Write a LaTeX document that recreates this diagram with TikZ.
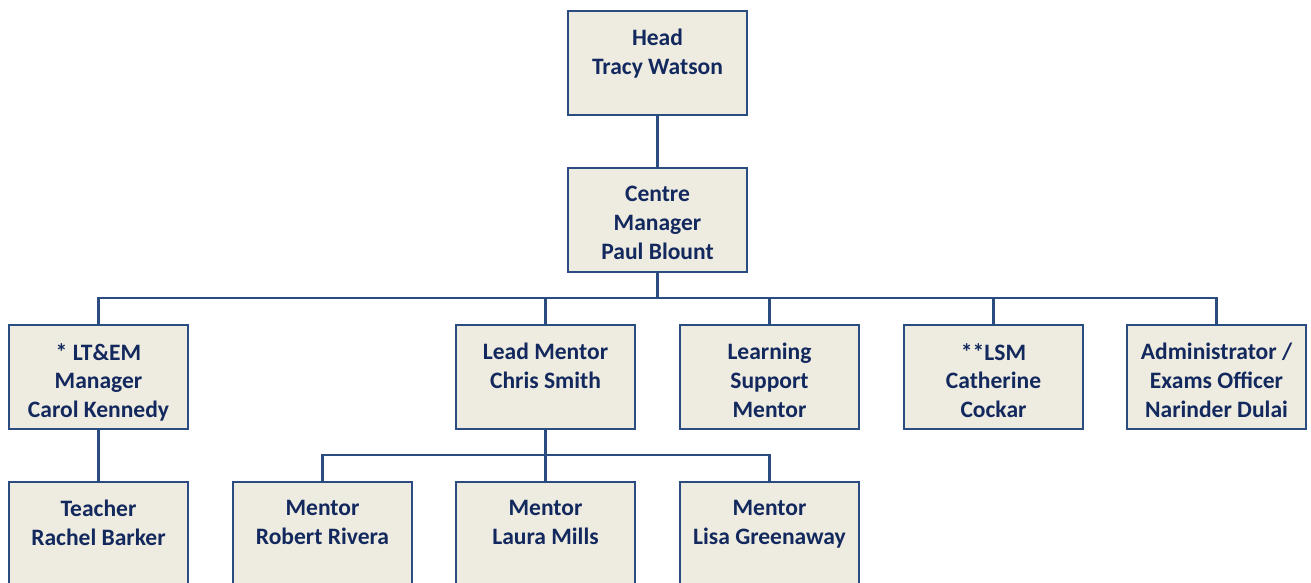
\documentclass[tikz,border=0pt]{standalone}
\usepackage{fontspec}
\setmainfont{Carlito}
\definecolor{boxfill}{HTML}{EEECE1}
\definecolor{boxline}{HTML}{2B4C80}
\definecolor{txtcol}{HTML}{13295E}
\begin{document}
\begin{tikzpicture}[x=0.02cm,y=-0.02cm,
  box/.style={draw=boxline,fill=boxfill,line width=1.2pt,minimum width=3.58cm,minimum height=2.08cm,inner sep=0pt},
  txt/.style={anchor=north,align=center,inner sep=0pt,text=txtcol,font=\bfseries\fontsize{13.4}{16.4}\selectfont},
  link/.style={draw=boxline,line width=1.2pt}]
\useasboundingbox (0,0) rectangle (1311,582);
\clip (0,0) rectangle (1311,582);
% boxes: centres at (x, top+52)
\node[box] (head) at (657.5,63) {};
\node[box] (cm) at (657.5,220) {};
\node[box] (lt) at (98.5,377) {};
\node[box] (lm) at (545.5,377) {};
\node[box] (ls) at (769.5,377) {};
\node[box] (lsm) at (993.5,377) {};
\node[box] (adm) at (1216.5,377) {};
\node[box] (tch) at (98.5,534) {};
\node[box] (m1) at (322.5,534) {};
\node[box] (m2) at (545.5,534) {};
\node[box] (m3) at (769.5,534) {};
% labels
\node[txt] (head-t) at ([yshift=-0.38cm]head.north) {Head\\Tracy Watson};
\node[txt] (cm-t) at ([yshift=-0.38cm]cm.north) {Centre\\Manager\\Paul Blount};
\node[txt] (lt-t) at ([yshift=-0.38cm]lt.north) {* LT\&EM\\Manager\\Carol Kennedy};
\node[txt] (lm-t) at ([yshift=-0.38cm]lm.north) {Lead Mentor\\Chris Smith};
\node[txt] (ls-t) at ([yshift=-0.38cm]ls.north) {Learning\\Support\\Mentor};
\node[txt] (lsm-t) at ([yshift=-0.38cm]lsm.north) {**LSM\\Catherine\\Cockar};
\node[txt] (adm-t) at ([yshift=-0.38cm]adm.north) {Administrator /\\Exams Officer\\Narinder Dulai};
\node[txt] (tch-t) at ([yshift=-0.38cm]tch.north) {Teacher\\Rachel Barker};
\node[txt] (m1-t) at ([yshift=-0.38cm]m1.north) {Mentor\\Robert Rivera};
\node[txt] (m2-t) at ([yshift=-0.38cm]m2.north) {Mentor\\Laura Mills};
\node[txt] (m3-t) at ([yshift=-0.38cm]m3.north) {Mentor\\Lisa Greenaway};
% connectors
\coordinate (bus1) at (657.5,298);
\coordinate (bus2) at (545.5,455);
\draw[link] (head.south) -- (cm.north);
\draw[link] (cm.south) -- (bus1);
\foreach \n in {lt,lm,ls,lsm,adm}
  \draw[link] (bus1) -| (\n.north);
\draw[link] (lt.south) -- (tch.north);
\draw[link] (lm.south) -- (bus2);
\foreach \n in {m1,m2,m3}
  \draw[link] (bus2) -| (\n.north);
\end{tikzpicture}
\end{document}
